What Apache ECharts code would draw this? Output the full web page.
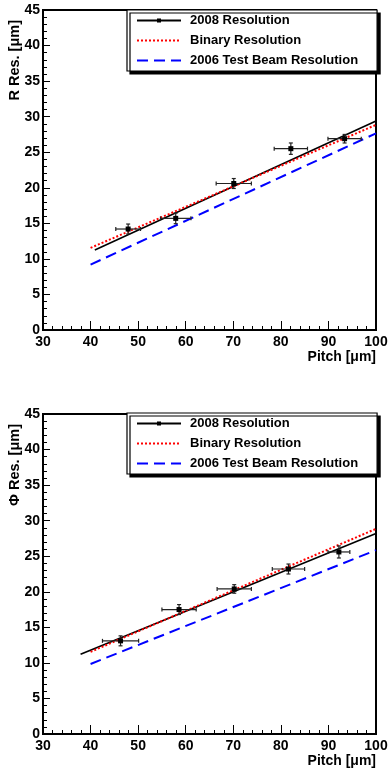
<!DOCTYPE html>
<html><head><meta charset="utf-8">
<script src="https://cdn.jsdelivr.net/npm/echarts@6/dist/echarts.min.js"></script>
<style>html,body{margin:0;padding:0;background:#fff}#c{width:389px;height:768px}</style>
</head><body><div id="c"></div><script>
// ---- Data ----
const seriesNames = ['2008 Resolution', 'Binary Resolution', '2006 Test Beam Resolution'];
const xTicks = [30, 40, 50, 60, 70, 80, 90, 100];
const yTicks = [0, 5, 10, 15, 20, 25, 30, 35, 40, 45];

// Top panel: R resolution
const pitchR = [47.9, 57.9, 70.1, 82.1, 93.4];
const resR = [14.2, 15.7, 20.6, 25.5, 26.9];
const pitchErrR = [2.6, 3.2, 3.7, 3.5, 3.5];
const resErrR = [0.7, 0.75, 0.7, 0.8, 0.6];
const fitPitchR = [40.9, 100];
const fitR = [11.25, 29.4];
const binPitchR = [40, 100];
const binR = [11.55, 28.85];
const tbPitchR = [40, 100];
const tbR = [9.2, 27.65];

// Bottom panel: Phi resolution
const pitchPhi = [46.3, 58.6, 70.2, 81.6, 92.2];
const resPhi = [13.1, 17.5, 20.4, 23.2, 25.6];
const pitchErrPhi = [3.8, 3.6, 3.6, 3.4, 2.3];
const resErrPhi = [0.7, 0.7, 0.6, 0.7, 0.85];
const fitPitchPhi = [37.9, 100];
const fitPhi = [11.2, 28.2];
const binPitchPhi = [40, 100];
const binPhi = [11.55, 28.85];
const tbPitchPhi = [40, 100];
const tbPhi = [9.85, 25.85];

// ---- helpers ----
const FONT = '"Liberation Sans", Arial, Helvetica, sans-serif';
// small square marker inside a larger invisible box (keeps legend marker small)
const SMALL_SQUARE = 'path://M0,0M10,10M3.2,3.2L6.8,3.2L6.8,6.8L3.2,6.8Z';
function zip(a, b) { return a.map((v, i) => [v, b[i]]); }
function errData(x, y, ex, ey) { return x.map((v, i) => [v, y[i], ex[i], ey[i]]); }

function errRender(params, api) {
  const x = api.value(0), y = api.value(1), ex = api.value(2), ey = api.value(3);
  const c = api.coord([x, y]);
  const l = api.coord([x - ex, y]);
  const r = api.coord([x + ex, y]);
  const t = api.coord([x, y + ey]);
  const b = api.coord([x, y - ey]);
  const st = { stroke: '#222', lineWidth: 1.2 };
  const cap = 2;
  return {
    type: 'group',
    children: [
      { type: 'line', shape: { x1: l[0], y1: l[1], x2: r[0], y2: r[1] }, style: st },
      { type: 'line', shape: { x1: l[0], y1: l[1] - cap, x2: l[0], y2: l[1] + cap }, style: st },
      { type: 'line', shape: { x1: r[0], y1: r[1] - cap, x2: r[0], y2: r[1] + cap }, style: st },
      { type: 'line', shape: { x1: t[0], y1: t[1], x2: b[0], y2: b[1] }, style: st },
      { type: 'line', shape: { x1: t[0] - cap, y1: t[1], x2: t[0] + cap, y2: t[1] }, style: st },
      { type: 'line', shape: { x1: b[0] - cap, y1: b[1], x2: b[0] + cap, y2: b[1] }, style: st },
      { type: 'rect', shape: { x: c[0] - 2.5, y: c[1] - 2.5, width: 5, height: 5 }, style: { fill: '#000' } }
    ]
  };
}

function makeXAxis(gi) {
  return {
    gridIndex: gi, type: 'value', min: xTicks[0], max: xTicks[xTicks.length - 1], interval: 10,
    axisLine: { show: true, onZero: false, lineStyle: { color: '#000', width: 2 } },
    axisTick: { show: true, inside: true, length: 9, lineStyle: { color: '#000', width: 1 } },
    minorTick: { show: true, splitNumber: 5, length: 4, lineStyle: { color: '#000', width: 1 } },
    splitLine: { show: false }, minorSplitLine: { show: false },
    axisLabel: { color: '#000', fontWeight: 'bold', fontSize: 14, fontFamily: FONT, margin: 5,
      hideOverlap: false, showMinLabel: true, showMaxLabel: true }
  };
}
function makeYAxis(gi) {
  return {
    gridIndex: gi, type: 'value', min: yTicks[0], max: yTicks[yTicks.length - 1], interval: 5,
    axisLine: { show: true, onZero: false, lineStyle: { color: '#000', width: 2 } },
    axisTick: { show: true, inside: true, length: 7, lineStyle: { color: '#000', width: 1 } },
    minorTick: { show: true, splitNumber: 5, length: 4, lineStyle: { color: '#000', width: 1 } },
    splitLine: { show: false }, minorSplitLine: { show: false },
    axisLabel: { color: '#000', fontWeight: 'bold', fontSize: 14, fontFamily: FONT, margin: 3,
      hideOverlap: false, showMinLabel: true, showMaxLabel: true }
  };
}

function panelSeries(gi, px, py, pex, pey, fx, fy, bx, by, tx, ty) {
  return [
    { name: 'points' + gi, type: 'custom', xAxisIndex: gi, yAxisIndex: gi,
      renderItem: errRender, encode: { x: 0, y: 1 }, data: errData(px, py, pex, pey), z: 5, silent: true },
    { name: seriesNames[0], type: 'line', xAxisIndex: gi, yAxisIndex: gi,
      symbol: SMALL_SQUARE, symbolSize: 5, itemStyle: { color: '#000' },
      lineStyle: { color: '#000', width: 1.6, type: 'solid' },
      data: zip(fx, fy).map(p => ({ value: p, symbol: 'none' })), z: 3, silent: true, animation: false },
    { name: seriesNames[1], type: 'line', xAxisIndex: gi, yAxisIndex: gi,
      showSymbol: false, symbol: 'none', itemStyle: { color: '#ff0000' },
      lineStyle: { color: '#ff0000', width: 2, type: [2, 2] },
      data: zip(bx, by), z: 4, silent: true, animation: false },
    { name: seriesNames[2], type: 'line', xAxisIndex: gi, yAxisIndex: gi,
      showSymbol: false, symbol: 'none', itemStyle: { color: '#0000ff' },
      lineStyle: { color: '#0000ff', width: 2, type: [11, 6] },
      data: zip(tx, ty), z: 2, silent: true, animation: false }
  ];
}

function makeLegend(top) {
  return {
    orient: 'vertical', left: 127, top: top,
    data: [
      { name: seriesNames[0] },
      { name: seriesNames[1], itemStyle: { opacity: 0 } },
      { name: seriesNames[2], itemStyle: { opacity: 0 } }
    ],
    itemWidth: 44, itemHeight: 14, itemGap: 7,
    padding: [4, 19, 4, 9],
    backgroundColor: '#fff', borderColor: '#000', borderWidth: 1.2, borderRadius: 0,
    shadowColor: '#000', shadowBlur: 0, shadowOffsetX: 3, shadowOffsetY: 3,
    selectedMode: false,
    textStyle: { color: '#000', fontWeight: 'bold', fontSize: 13, fontFamily: FONT, padding: [0, 0, 0, 4] }
  };
}

const gridCommon = { left: 43, width: 333, height: 320, show: true, borderColor: '#000', borderWidth: 2,
  backgroundColor: 'transparent', containLabel: false, outerBoundsMode: 'none' };

const option = {
  animation: false,
  backgroundColor: '#fff',
  grid: [Object.assign({ top: 10 }, gridCommon), Object.assign({ top: 414 }, gridCommon)],
  xAxis: [makeXAxis(0), makeXAxis(1)],
  yAxis: [makeYAxis(0), makeYAxis(1)],
  legend: [makeLegend(10), makeLegend(413)],
  series: [].concat(
    panelSeries(0, pitchR, resR, pitchErrR, resErrR, fitPitchR, fitR, binPitchR, binR, tbPitchR, tbR),
    panelSeries(1, pitchPhi, resPhi, pitchErrPhi, resErrPhi, fitPitchPhi, fitPhi, binPitchPhi, binPhi, tbPitchPhi, tbPhi)
  ),
  graphic: [
    { type: 'text', x: 15, y: 20, rotation: Math.PI / 2,
      style: { text: 'R Res. [μm]', fill: '#000', font: 'bold 14.5px ' + FONT, align: 'right', verticalAlign: 'middle' } },
    { type: 'text', x: 15, y: 424, rotation: Math.PI / 2,
      style: { text: 'Φ Res. [μm]', fill: '#000', font: 'bold 14.5px ' + FONT, align: 'right', verticalAlign: 'middle' } },
    { type: 'text', x: 376, y: 357,
      style: { text: 'Pitch [μm]', fill: '#000', font: 'bold 14px ' + FONT, align: 'right', verticalAlign: 'middle' } },
    { type: 'text', x: 376, y: 761,
      style: { text: 'Pitch [μm]', fill: '#000', font: 'bold 14px ' + FONT, align: 'right', verticalAlign: 'middle' } }
  ]
};

const chart = echarts.init(document.getElementById('c'), null, { renderer: 'canvas' });
chart.setOption(option);
</script></body></html>
